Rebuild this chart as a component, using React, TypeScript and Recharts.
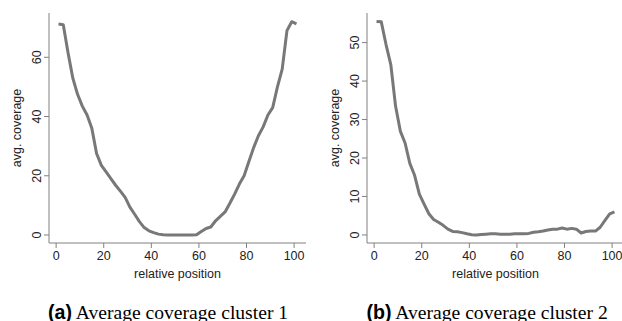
import { LineChart, Line, XAxis, YAxis, Label } from 'recharts'

// relative position along the transcript (x) and average coverage (y)
const positions = [
  1, 3, 5, 7, 9, 11, 13, 15, 17, 19, 21, 23, 25, 27, 29, 31, 33, 35, 37, 39, 41, 43, 45, 47, 49, 51,
  53, 55, 57, 59, 61, 63, 65, 67, 69, 71, 73, 75, 77, 79, 81, 83, 85, 87, 89, 91, 93, 95, 97, 99, 101,
]

const cluster1Coverage = [
  71.2, 71.0, 61.5, 53, 47.5, 43.5, 40.5, 36, 27.5, 23.5, 21.3, 19, 16.8, 14.8, 12.7, 9.4, 7, 4.5,
  2.5, 1.4, 0.8, 0.3, 0.05, 0, 0, 0, 0, 0, 0, 0.1, 1.2, 2.2, 2.7, 4.8, 6.3, 7.8, 10.7, 13.8, 17.2,
  20, 24.8, 29.5, 33.5, 36.5, 40.5, 43, 50, 56, 69, 72, 71.3,
]

const cluster2Coverage = [
  55.5, 55.4, 49.5, 44.3, 33.5, 27, 23.9, 18.6, 15.5, 10.6, 8, 5.5, 4.0, 3.3, 2.5, 1.5, 0.9, 0.8,
  0.6, 0.3, 0.05, 0, 0.1, 0.2, 0.3, 0.3, 0.2, 0.2, 0.2, 0.3, 0.3, 0.3, 0.4, 0.7, 0.8, 1.0, 1.3, 1.5,
  1.5, 1.8, 1.5, 1.7, 1.5, 0.5, 0.9, 1.0, 1.0, 2.0, 3.8, 5.5, 6.0,
]

const xTicks = [0, 20, 40, 60, 80, 100]
const cluster1YTicks = [0, 20, 40, 60]
const cluster2YTicks = [0, 10, 20, 30, 40, 50]

const captionA = 'Average coverage cluster 1'
const captionB = 'Average coverage cluster 2'

const AXIS = '#808080'
const LINE = '#787878'
const TEXT = '#222'
const SANS = '"Liberation Sans", Arial, sans-serif'
const SERIF = '"Liberation Serif", "Times New Roman", serif'

const CHART_H = 290
const PLOT_TOP = 13
const PLOT_BOTTOM = 243
const PLOT_W = 257

function XTick(props: any) {
  const { x, y, payload } = props
  return (
    <text x={x} y={y + 10} textAnchor="middle" fontSize={12.5} fontFamily={SANS} fill={TEXT}>
      {payload.value}
    </text>
  )
}

function YTick(props: any) {
  const { x, y, payload } = props
  const bx = x - 1
  return (
    <text
      x={bx}
      y={y}
      transform={`rotate(-90 ${bx} ${y})`}
      textAnchor="middle"
      fontSize={12.5}
      fontFamily={SANS}
      fill={TEXT}
    >
      {payload.value}
    </text>
  )
}

interface PanelProps {
  values: number[]
  yTicks: number[]
  yDomain: [number, number]
  axisWidth: number
  left: number
}

function CoveragePanel({ values, yTicks, yDomain, axisWidth, left }: PanelProps) {
  const data = positions.map((p, i) => ({ pos: p, cov: values[i] }))
  const width = axisWidth + PLOT_W + 5
  const midX = axisWidth + PLOT_W / 2
  const midY = (PLOT_TOP + PLOT_BOTTOM) / 2

  return (
    <div style={{ position: 'absolute', left, top: 0 }}>
      <LineChart width={width} height={CHART_H} data={data} margin={{ top: PLOT_TOP, right: 5, bottom: 0, left: 0 }}>
        <XAxis
          xAxisId="b"
          dataKey="pos"
          type="number"
          domain={[-3, 105]}
          allowDataOverflow
          ticks={xTicks}
          height={CHART_H - PLOT_BOTTOM}
          tickSize={5}
          tickMargin={2}
          stroke={AXIS}
          tickLine={{ stroke: AXIS }}
          tick={XTick}
        >
          <Label
            content={() => (
              <text x={midX} y={PLOT_BOTTOM + 34.5} textAnchor="middle" fontSize={12.5} fontFamily={SANS} fill={TEXT}>
                relative position
              </text>
            )}
          />
        </XAxis>
        <XAxis
          xAxisId="t"
          orientation="top"
          dataKey="pos"
          type="number"
          domain={[-3, 105]}
          allowDataOverflow
          height={0}
          tick={false}
          tickLine={false}
          stroke={AXIS}
        />
        <YAxis
          yAxisId="l"
          type="number"
          domain={yDomain}
          allowDataOverflow
          ticks={yTicks}
          width={axisWidth}
          tickSize={5}
          tickMargin={2}
          stroke={AXIS}
          tickLine={{ stroke: AXIS }}
          tick={YTick}
        >
          <Label
            content={() => (
              <text
                x={axisWidth - 28}
                y={midY}
                transform={`rotate(-90 ${axisWidth - 28} ${midY})`}
                textAnchor="middle"
                fontSize={12.5}
                fontFamily={SANS}
                fill={TEXT}
              >
                avg. coverage
              </text>
            )}
          />
        </YAxis>
        <YAxis
          yAxisId="r"
          orientation="right"
          type="number"
          domain={yDomain}
          allowDataOverflow
          width={0}
          tick={false}
          tickLine={false}
          stroke={AXIS}
        />
        <Line
          xAxisId="b"
          yAxisId="l"
          type="linear"
          dataKey="cov"
          stroke={LINE}
          strokeWidth={3}
          strokeLinejoin="round"
          dot={false}
          isAnimationActive={false}
        />
      </LineChart>
    </div>
  )
}

export default function App() {
  return (
    <div
      style={{
        position: 'absolute',
        left: 0,
        top: 0,
        width: 622,
        height: 321,
        overflow: 'hidden',
        background: '#fff',
      }}
    >
      <CoveragePanel values={cluster1Coverage} yTicks={cluster1YTicks} yDomain={[-2.7, 74.95]} axisWidth={49} left={0} />
      <CoveragePanel values={cluster2Coverage} yTicks={cluster2YTicks} yDomain={[-2.1, 57.7]} axisWidth={56} left={311} />
      <svg width={622} height={321} style={{ position: 'absolute', left: 0, top: 0, pointerEvents: 'none' }}>
        <text x={48} y={318.5} fontSize={19.6} fill="#000">
          <tspan fontFamily={SANS} fontWeight="bold">(a)</tspan>
          <tspan fontFamily={SERIF}> {captionA}</tspan>
        </text>
        <text x={366.5} y={318.5} fontSize={19.6} fill="#000">
          <tspan fontFamily={SANS} fontWeight="bold">(b)</tspan>
          <tspan fontFamily={SERIF}> {captionB}</tspan>
        </text>
      </svg>
    </div>
  )
}
